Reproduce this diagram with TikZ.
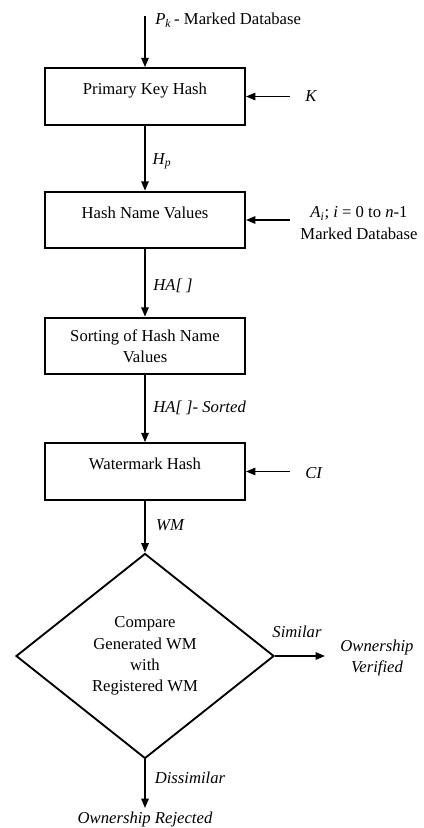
\documentclass[tikz,border=0pt]{standalone}
\usepackage{fontspec}
\setmainfont{Liberation Serif}
\usepackage{tikz}
\usetikzlibrary{shapes.geometric}
\usetikzlibrary{arrows.meta}

\begin{document}
\begin{tikzpicture}[x=0.75pt,y=-0.75pt,>={Triangle[length=7pt,width=5.5pt]},
		font=\fontsize{12.5}{16}\selectfont,
		stepbox/.style={draw,line width=1.4pt,minimum width=150pt,minimum height=42.5pt,align=center,inner sep=0pt},
		onerow/.style={text height=8.5pt,text depth=11.5pt},
		flow/.style={line width=1.3pt,->},
		note/.style={inner sep=0pt,align=center},
		lbl/.style={note,font=\fontsize{12.5}{16}\selectfont\itshape}]
				\useasboundingbox (0,0) rectangle (424,828);
				\def\mx{145};
				% main column
				\node[stepbox,onerow] (pkh) at (\mx,96.5) {Primary Key Hash};
				\node[stepbox,onerow] (hnv) at (\mx,220) {Hash Name Values};
				\node[stepbox] (srt) at (\mx,346) {Sorting of Hash Name\\Values};
				\node[stepbox,onerow] (wmh) at (\mx,471.5) {Watermark Hash};
				\node[draw,diamond,line width=1.4pt,aspect=1.26,minimum width=193.5pt,minimum height=153.75pt,inner sep=0pt,align=center] (cmp) at (\mx,656) {Compare\\Generated WM\\with\\Registered WM};
				% free ends
				\coordinate (in) at (\mx,16);
				\coordinate (kin) at (290,96.5);
				\coordinate (ain) at (290,220);
				\coordinate (cin) at (290,471.5);
				\coordinate (ver) at (325,656);
				\coordinate (rej) at (\mx,808);
				% labels
				\node[note,anchor=west] (pk) at (155,20) {\textit{P}\textsubscript{\textit{k}}\,- Marked Database};
				\node[lbl,anchor=west] (k) at (305,96.5) {K};
				\node[lbl] (hp) at (162,161) {H\textsubscript{p}};
				\node[note] (ai) at (359,223) {\textit{A}\textsubscript{\textit{i}}; \textit{i} = 0 to \textit{n}-1\\Marked Database};
				\node[lbl] (ha) at (173,286) {HA[ ]};
				\node[lbl,anchor=west] (has) at (153,408) {HA[ ]- Sorted};
				\node[lbl,anchor=west] (ci) at (305,473) {CI};
				\node[lbl] (wm) at (170,525) {WM};
				\node[lbl] (sim) at (297,632) {Similar};
				\node[lbl] (own) at (377,658) {Ownership\\Verified};
				\node[lbl] (dis) at (190,778) {Dissimilar};
				\node[lbl] (rjt) at (\mx,819) {Ownership Rejected};
				% connectors
				\draw[flow] (in) -- (pkh.north);
				\draw[flow] (pkh) -- (hnv);
				\draw[flow] (hnv) -- (srt);
				\draw[flow] (srt) -- (wmh);
				\draw[flow] (wmh) -- (cmp.north);
				\draw[flow] (kin) -- (pkh.east);
				\draw[flow] (ain) -- (hnv.east);
				\draw[flow] (cin) -- (wmh.east);
				\draw[flow] (cmp.east) -- (ver);
				\draw[flow] (cmp.south) -- (rej);
			\end{tikzpicture}
\end{document}
